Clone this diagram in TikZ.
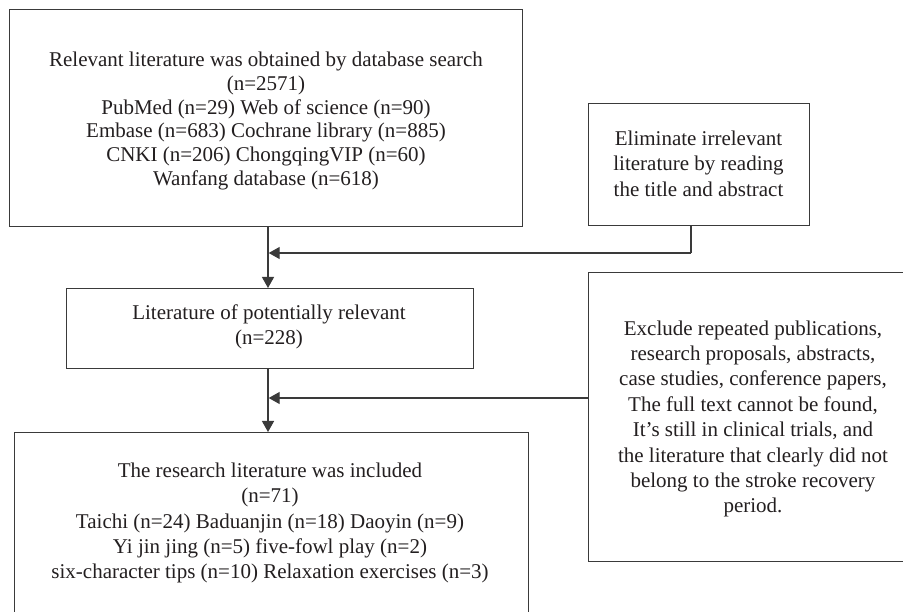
\documentclass[tikz,border=0pt]{standalone}
\usepackage{fontspec}
\setmainfont{Liberation Serif}
\usetikzlibrary{arrows.meta}
\definecolor{ink}{HTML}{231F20}
\definecolor{edge}{HTML}{3A3A3A}
\begin{document}
\begin{tikzpicture}[x=1pt,y=-1pt,
  box/.style={draw=edge,line width=1.4pt,rectangle,inner sep=0pt,anchor=north west},
  txt/.style={text=ink,align=center,font=\fontsize{21}{25.4}\selectfont,inner sep=0pt},
  arr/.style={draw=edge,line width=1.3pt,-{Triangle[length=11pt,width=12pt]}},
  ln/.style={draw=edge,line width=1.3pt}]
\useasboundingbox (0,0) rectangle (903,612);
\clip (0,0) rectangle (903,612);
\fill[white] (0,0) rectangle (903,612);
% boxes
\node[box,minimum width=513pt,minimum height=217pt] (b1) at (9,9) {};
\node[box,minimum width=221pt,minimum height=122pt] (b3) at (588,103) {};
\node[box,minimum width=407pt,minimum height=80pt] (b2) at (66,288) {};
\node[box,minimum width=330pt,minimum height=289pt] (b4) at (588,272) {};
\node[box,minimum width=514pt,minimum height=183pt] (b5) at (14,432) {};
% texts
\node[txt,font=\fontsize{21}{23.8}\selectfont] (t1) at (266,121) {Relevant literature was obtained by database search\\(n=2571)\\PubMed (n=29) Web of science (n=90)\\Embase (n=683) Cochrane library (n=885)\\CNKI (n=206) ChongqingVIP (n=60)\\Wanfang database (n=618)};
\node[txt] (t3) at (698.5,163.5) {Eliminate irrelevant\\literature by reading\\the title and abstract};
\node[txt] (t2) at (269,327) {Literature of potentially relevant\\(n=228)};
\node[txt] (t4) at (753,419) {Exclude repeated publications,\\research proposals, abstracts,\\case studies, conference papers,\\The full text cannot be found,\\It’s still in clinical trials, and\\the literature that clearly did not\\belong to the stroke recovery\\period.};
\node[txt] (t5) at (270,523) {The research literature was included\\(n=71)\\Taichi (n=24) Baduanjin (n=18) Daoyin (n=9)\\Yi jin jing (n=5) five-fowl play (n=2)\\six-character tips (n=10) Relaxation exercises (n=3)};
% connectors
\coordinate (vx) at (268,0);
\coordinate (j1) at (691,253);
\coordinate (j2) at (588,398);
\draw[arr] (b1.south -| vx) -- (b2.north -| vx);
\draw[arr] (b2.south -| vx) -- (b5.north -| vx);
\draw[ln] (b3.south -| j1) -- (j1);
\draw[arr] (j1) -- ([xshift=0.7pt]j1 -| vx);
\draw[arr] (j2) -- ([xshift=0.7pt]j2 -| vx);
\end{tikzpicture}
\end{document}
